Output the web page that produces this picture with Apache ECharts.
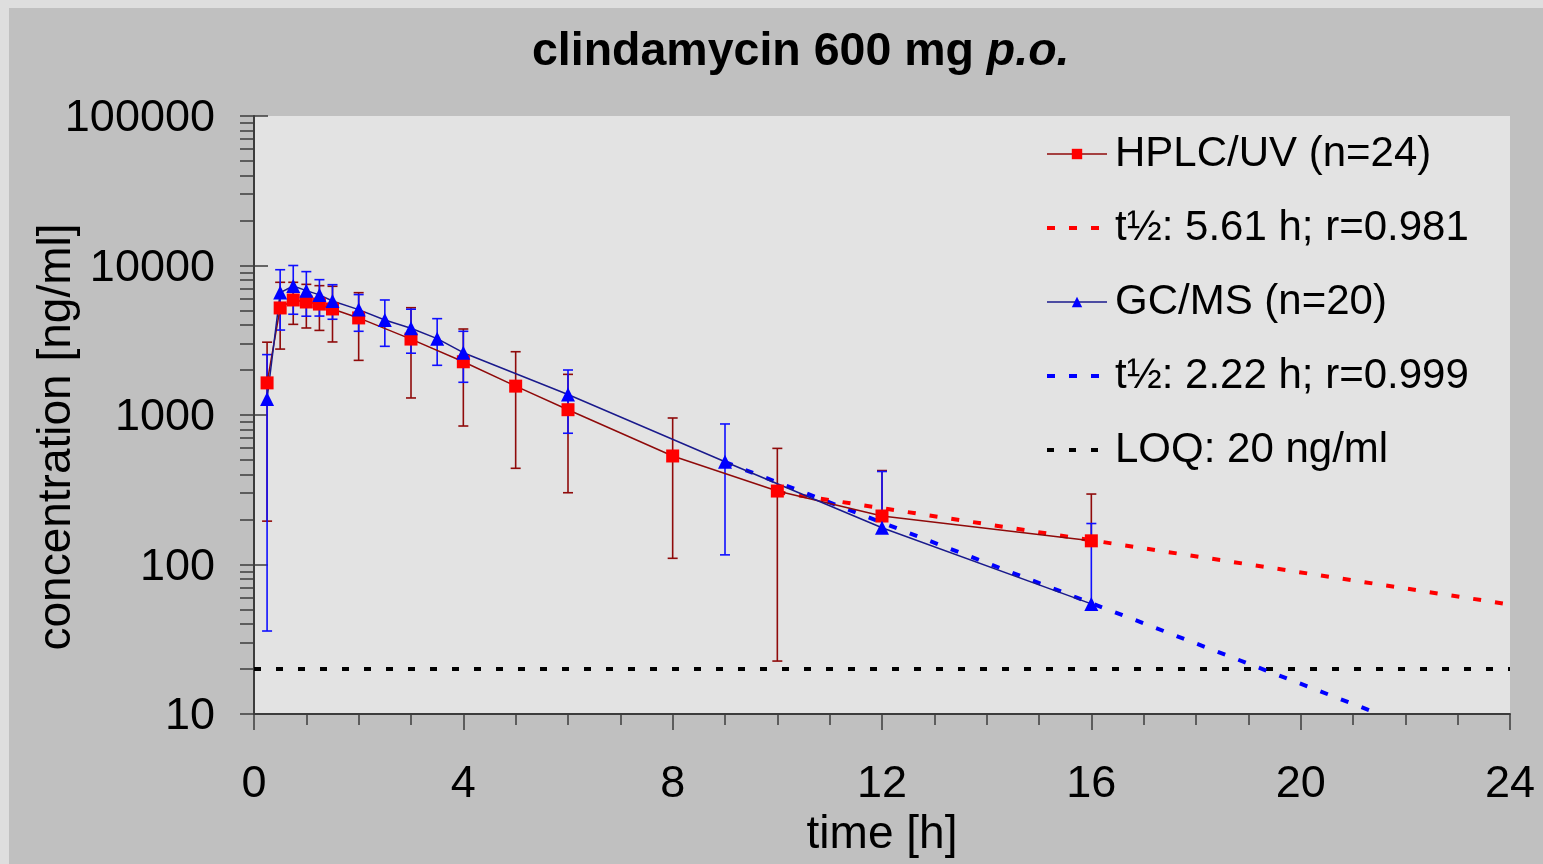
<!DOCTYPE html>
<html><head><meta charset="utf-8">
<script src="https://cdn.jsdelivr.net/npm/echarts@6/dist/echarts.min.js"></script>
<style>
html,body{margin:0;padding:0;overflow:hidden;background:#c0c0c0;}
#c{width:1543px;height:864px;background:linear-gradient(#c0c0c0,#c0c0c0) 9px 8px/3000px 3000px no-repeat,#dedede;}
</style>
</head><body><div id="c"></div><script>
// ---- data ----
const hplcTime  = [0.25, 0.5, 0.75, 1, 1.25, 1.5, 2, 3, 4, 5, 6, 8, 10, 12, 16];
const hplcMean  = [1640, 5200, 5880, 5700, 5520, 5120, 4460, 3220, 2270, 1560, 1085, 532, 310, 211, 144];
const hplcUpper = [3070, 7720, 7720, 7480, 7330, 7260, 6580, 5220, 3760, 2650, 1870, 955, 598, 425, 296];
const hplcLower = [195, 2760, 4040, 3820, 3680, 3080, 2320, 1300, 844, 440, 302, 110, 22.6, null, null];

const gcmsTime  = [0.25, 0.5, 0.75, 1, 1.25, 1.5, 2, 2.5, 3, 3.5, 4, 6, 9, 12, 16];
const gcmsMean  = [1280, 6590, 7290, 6790, 6360, 5790, 5070, 4320, 3800, 3240, 2610, 1370, 487, 176, 54.5];
const gcmsUpper = [2535, 9370, 10000, 9100, 8040, 7440, 6390, 5880, 5100, 4410, 3630, 2000, 871, 419, 188];
const gcmsLower = [35.9, 3700, 4720, 4580, 4590, 4370, 3630, 2880, 2590, 2150, 1655, 755, 116, null, null];

const fitHplcTime = [10, 24];
const fitHplcConc = [305, 54];
const fitGcmsTime = [9, 21.5];
const fitGcmsConc = [484, 10];
const loqTime = [0, 24];
const loqConc = [20, 20];

const yDecades = [10, 100, 1000, 10000, 100000];
const xTicks = [0, 4, 8, 12, 16, 20, 24];

const seriesNames = ['HPLC/UV (n=24)', 't½: 5.61 h; r=0.981', 'GC/MS (n=20)', 't½: 2.22 h; r=0.999', 'LOQ: 20 ng/ml'];
const titleMain = 'clindamycin 600 mg ';
const titleItalic = 'p.o.';
const xName = 'time [h]';
const yName = 'concentration [ng/ml]';

// ---- build ----
const FONT = '"Liberation Sans", Arial, sans-serif';
const pairs = (xs, ys) => xs.map((x, i) => [x, ys[i]]);
const minorY = [];
for (let d = 0; d < yDecades.length - 1; d++) {
  for (let m = 1; m <= 9; m++) minorY.push(yDecades[d] * m);
}
minorY.push(yDecades[yDecades.length - 1]);

function errSeries(xs, mean, up, lo, color) {
  return {
    type: 'custom',
    z: 2,
    silent: true,
    data: xs.map((x, i) => [x, up[i], lo[i] == null ? mean[i] : lo[i], lo[i] == null ? 0 : 1]),
    encode: { x: 0, y: [1, 2] },
    renderItem: function (params, api) {
      const x = api.value(0);
      const pHi = api.coord([x, api.value(1)]);
      const pLo = api.coord([x, api.value(2)]);
      const hasLo = api.value(3) === 1;
      const w = 5;
      const st = { stroke: color, lineWidth: 1.6 };
      const children = [
        { type: 'line', shape: { x1: pHi[0], y1: pHi[1], x2: pLo[0], y2: pLo[1] }, style: st },
        { type: 'line', shape: { x1: pHi[0] - w, y1: pHi[1], x2: pHi[0] + w, y2: pHi[1] }, style: st }
      ];
      if (hasLo) children.push({ type: 'line', shape: { x1: pLo[0] - w, y1: pLo[1], x2: pLo[0] + w, y2: pLo[1] }, style: st });
      return { type: 'group', children: children };
    }
  };
}

const axisCol = '#3c3c3c';
const chart = echarts.init(document.getElementById('c'), null, { renderer: 'canvas' });
chart.setOption({
  backgroundColor: 'transparent',
  animation: false,
  textStyle: { fontFamily: FONT },
  title: {
    text: '{b|' + titleMain + '}{i|' + titleItalic + '}',
    left: 527, top: 24,
    textStyle: {
      rich: {
        b: { fontFamily: FONT, fontSize: 46.5, fontWeight: 'bold', color: '#000' },
        i: { fontFamily: FONT, fontSize: 46.5, fontWeight: 'bold', fontStyle: 'italic', color: '#000' }
      }
    }
  },
  grid: { left: 254, top: 116, right: 33, bottom: 150, show: true, backgroundColor: '#e3e3e3', borderWidth: 0 },
  legend: {
    orient: 'vertical', left: 1040, top: 124,
    itemWidth: 60, itemHeight: 13, itemGap: 24,
    selectedMode: false,
    textStyle: { fontFamily: FONT, fontSize: 42, color: '#000', lineHeight: 50, padding: [0, 0, 0, 3] },
    data: [
      { name: seriesNames[0], lineStyle: { width: 1.5 } },
      { name: seriesNames[1], lineStyle: { width: 4 }, itemStyle: { opacity: 0 } },
      { name: seriesNames[2], lineStyle: { width: 1.5 } },
      { name: seriesNames[3], lineStyle: { width: 4 }, itemStyle: { opacity: 0 } },
      { name: seriesNames[4], lineStyle: { width: 4 }, itemStyle: { opacity: 0 } }
    ]
  },
  xAxis: {
    type: 'value', min: xTicks[0], max: xTicks[xTicks.length - 1], interval: 4,
    name: xName, nameLocation: 'middle', nameGap: 81,
    nameTextStyle: { fontFamily: FONT, fontSize: 46, color: '#000' },
    axisLine: { show: true, lineStyle: { color: axisCol, width: 2 } },
    axisTick: { show: true, inside: false, length: 16, lineStyle: { color: axisCol, width: 1.5 } },
    minorTick: { show: true, splitNumber: 4, length: 11, lineStyle: { color: axisCol, width: 1.5 } },
    splitLine: { show: false },
    axisLabel: { fontFamily: FONT, fontSize: 45, color: '#000', margin: 48 }
  },
  yAxis: [
    {
      type: 'log', logBase: 10, min: yDecades[0], max: yDecades[yDecades.length - 1],
      position: 'left',
      axisLine: { show: true, lineStyle: { color: axisCol, width: 2 } },
      axisTick: { show: true, inside: false, length: 14, customValues: minorY, lineStyle: { color: axisCol, width: 1.5 } },
      splitLine: { show: false },
      axisLabel: {
        fontFamily: FONT, fontSize: 45, color: '#000', margin: 39,
        formatter: v => '{a|' + String(Math.round(v)) + '}',
        rich: { a: { fontFamily: FONT, fontSize: 45, color: '#000', padding: [6, 0, 0, 0] } }
      }
    },
    {
      type: 'log', logBase: 10, min: yDecades[0], max: yDecades[yDecades.length - 1],
      position: 'left',
      axisLine: { show: false },
      axisTick: { show: true, inside: true, length: 14, lineStyle: { color: axisCol, width: 1.5 } },
      splitLine: { show: false },
      axisLabel: { show: false }
    }
  ],
  graphic: [
    {
      type: 'text', x: 57, y: 437, rotation: Math.PI / 2,
      style: { text: yName, font: '46px ' + FONT, fill: '#000', align: 'center', verticalAlign: 'middle' }
    }
  ],
  series: [
    {
      name: seriesNames[4], type: 'line', data: pairs(loqTime, loqConc), symbol: 'none', z: 2,
      lineStyle: { color: '#000', width: 4, type: [7, 15] }, itemStyle: { color: '#000' }
    },
    errSeries(hplcTime, hplcMean, hplcUpper, hplcLower, '#8f0a0a'),
    errSeries(gcmsTime, gcmsMean, gcmsUpper, gcmsLower, '#1010ff'),
    {
      name: seriesNames[1], type: 'line', data: pairs(fitHplcTime, fitHplcConc), symbol: 'none', z: 3,
      lineStyle: { color: '#ff0000', width: 4, type: [8, 14] }, itemStyle: { color: '#ff0000' }
    },
    {
      name: seriesNames[3], type: 'line', data: pairs(fitGcmsTime, fitGcmsConc), symbol: 'none', z: 3,
      lineStyle: { color: '#0000ff', width: 4, type: [8, 14] }, itemStyle: { color: '#0000ff' }
    },
    {
      name: seriesNames[0], type: 'line', data: pairs(hplcTime, hplcMean), z: 4,
      symbol: 'rect', symbolSize: 13,
      lineStyle: { color: '#8f0a0a', width: 1.5 }, itemStyle: { color: '#ff0000' }
    },
    {
      name: seriesNames[2], type: 'line', data: pairs(gcmsTime, gcmsMean), z: 4,
      symbol: 'triangle', symbolSize: 14,
      lineStyle: { color: '#1a1a8c', width: 1.5 }, itemStyle: { color: '#0000ff' }
    }
  ]
});
</script></body></html>
